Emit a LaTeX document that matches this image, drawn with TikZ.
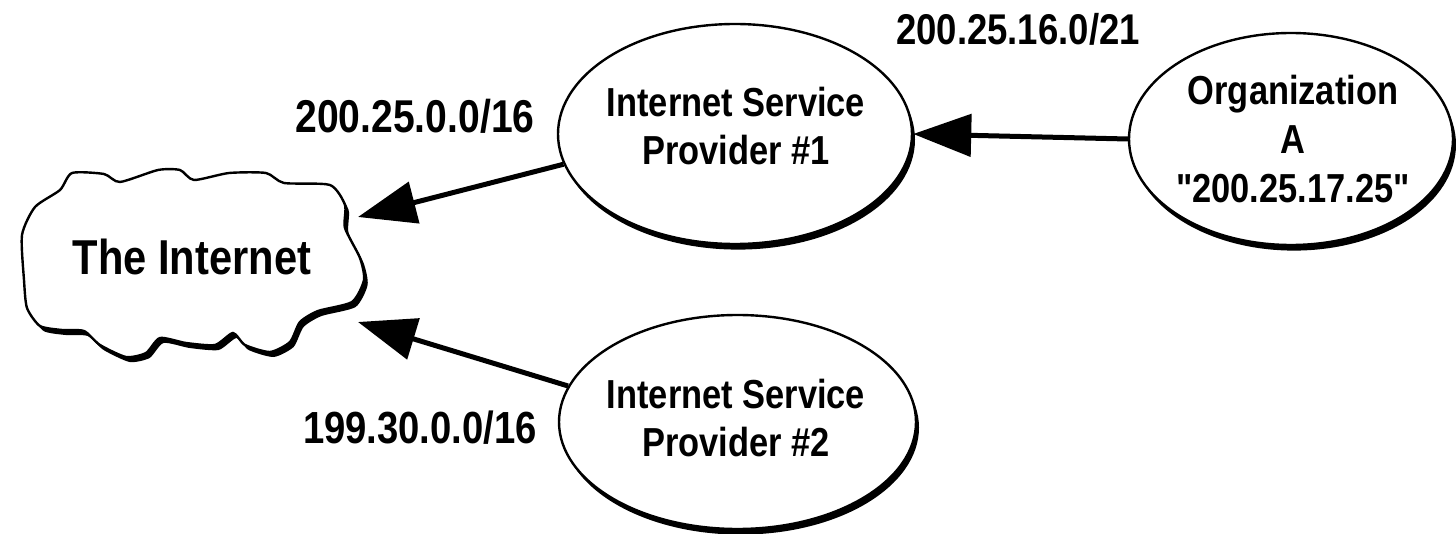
\documentclass[tikz,border=0pt]{standalone}
\usepackage{fontspec}
\newfontfamily\lsans{Liberation Sans}[FakeStretch=0.85]
\usetikzlibrary{arrows.meta,shapes.geometric,shadows}
\begin{document}
\begin{tikzpicture}[x=0.5pt,y=-0.5pt,
  ell/.style={ellipse, draw, line width=1.2pt, fill=white, inner sep=0pt,
    drop shadow={shadow xshift=1.5pt, shadow yshift=-2.8pt, fill=black, opacity=1}},
  lbl/.style={font=\lsans\bfseries\fontsize{20.25}{24}\selectfont, align=center, inner sep=0pt},
  ip/.style={inner sep=0pt, anchor=base},
  arr/.style={line width=2.5pt, -{Triangle[length=29pt,width=21pt]}}
]
\useasboundingbox (0,0) rectangle (1456,534);

% cloud
\draw[line width=1.2pt, fill=white,
  drop shadow={shadow xshift=1.8pt, shadow yshift=-2.5pt, fill=black, opacity=1}]
  plot[smooth cycle, tension=0.4] coordinates {
  (72,173) (104,174) (120,182) (158,170) (180,170) (194,180) (229,173) (266,173)
  (284,183) (330,185) (345,205) (345,228) (360,258) (364,280) (352,302) (318,311)
  (300,322) (290,342) (270,352) (245,345) (233,333) (215,345) (186,343) (160,338)
  (146,353) (126,357) (100,345) (84,331) (62,330) (40,326) (27,308) (24,280)
  (22,235) (35,207) (60,190)};
\node[ip, font=\lsans\bfseries\fontsize{24.5}{28}\selectfont] (inet) at (192,275) {The Internet};
\coordinate (inetA) at (358,217);
\coordinate (inetB) at (358,322);

% ellipses
\node[ell, minimum width=177pt, minimum height=110pt] (isp1) at (735,134) {};
\node[ell, minimum width=178.5pt, minimum height=107pt] (isp2) at (737.5,422) {};
\node[ell, minimum width=162pt, minimum height=106pt] (orga) at (1291,139) {};

\node[lbl] (isp1t) at (736,126.5) {Internet Service\\Provider \#1};
\node[lbl] (isp2t) at (736,418.5) {Internet Service\\Provider \#2};
\node[lbl, font=\lsans\bfseries\fontsize{20.25}{24.5}\selectfont] (orgat) at (1293,139)
  {Organization\\A\\"200.25.17.25"};

% address labels
\node[ip, font=\lsans\bfseries\fontsize{21.5}{26}\selectfont] (l1) at (1018,45) {200.25.16.0/21};
\node[ip, font=\lsans\bfseries\fontsize{23}{27}\selectfont] (l2) at (415,133) {200.25.0.0/16};
\node[ip, font=\lsans\bfseries\fontsize{22.5}{27}\selectfont] (l3) at (420,443) {199.30.0.0/16};

% connectors
\draw[arr] (isp1.190) -- (inetA);
\draw[arr] (isp2.168) -- (inetB);
\draw[arr] (orga.west) -- (isp1.east);
\end{tikzpicture}
\end{document}
